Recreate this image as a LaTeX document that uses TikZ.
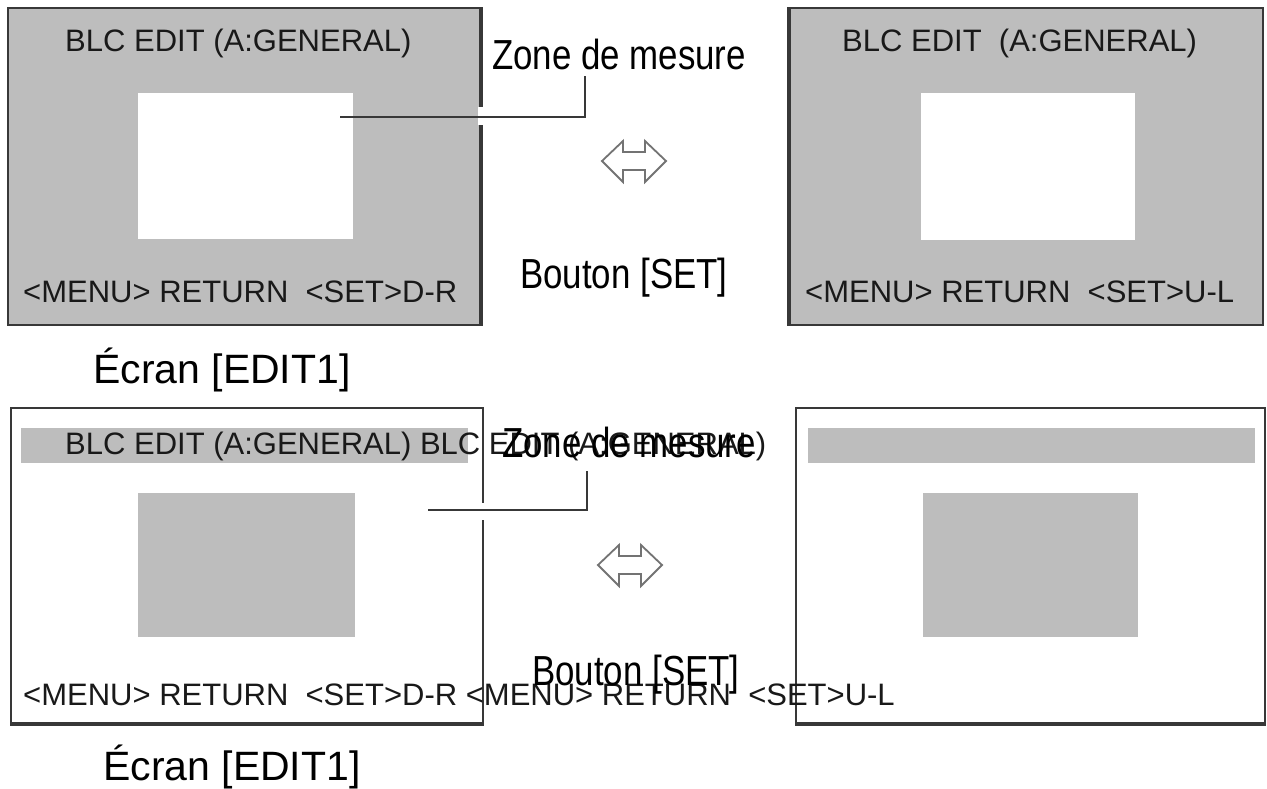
\documentclass[tikz,border=0pt]{standalone}
\usepackage{fontspec}
\usepackage{graphicx}
\setmainfont{Liberation Sans}
\definecolor{scrgray}{HTML}{BDBDBD}
\definecolor{edgecol}{HTML}{383838}
\begin{document}
\begin{tikzpicture}[
	x=1pt, y=-1pt,
	scr/.style = {rectangle, draw=edgecol, line width=1.8pt, inner sep=0},
	win/.style = {rectangle, inner sep=0},
	heavy/.style = {draw=edgecol, line width=3.5pt},
	gap/.style = {draw=white, line width=5pt},
	osd/.style = {inner sep=0, anchor=base west, text=black!90, font=\fontsize{31}{33}\selectfont},
	lbl/.style = {inner sep=0, anchor=base west, font=\fontsize{42}{44}\selectfont},
	scrname/.style = {inner sep=0, anchor=base west, font=\fontsize{41}{43}\selectfont},
	lead/.style = {draw=edgecol, line width=2pt},
	dbl/.pic = {\draw[black!55, line width=1.8pt] (-32,0) -- (-11,-20) -- (-11,-9) -- (11,-9) -- (11,-20) -- (32,0) -- (11,21) -- (11,9) -- (-11,9) -- (-11,21) -- cycle;}
	]
	
	\fill[white] (0,0) rectangle (1267,789);
	\useasboundingbox (0,0) rectangle (1267,789);
	
	%Screens
	\node[scr, fill=scrgray, minimum width=472pt, minimum height=317pt]	(s1)	at	(244, 166.5)	{};
	\node[scr, fill=scrgray, minimum width=473pt, minimum height=317pt]	(s2)	at	(1026.5, 166.5)	{};
	\node[scr, fill=white, minimum width=472pt, minimum height=315pt]	(s3)	at	(247, 565.5)	{};
	\node[scr, fill=white, minimum width=469pt, minimum height=315pt]	(s4)	at	(1030.5, 565.5)	{};
	
	\node[win, fill=white, minimum width=215pt, minimum height=146pt]	(w1)	at	(245.5, 166)	{};
	\node[win, fill=white, minimum width=214pt, minimum height=147pt]	(w2)	at	(1028, 166.5)	{};
	\node[win, fill=scrgray, minimum width=447pt, minimum height=35pt]	(b3)	at	(244.5, 445.5)	{};
	\node[win, fill=scrgray, minimum width=217pt, minimum height=144pt]	(w3)	at	(246.5, 565)	{};
	\node[win, fill=scrgray, minimum width=447pt, minimum height=35pt]	(b4)	at	(1031.5, 445.5)	{};
	\node[win, fill=scrgray, minimum width=215pt, minimum height=144pt]	(w4)	at	(1030.5, 565)	{};
	
	\draw[heavy]	(s1.north east)	--	(s1.south east);
	\draw[heavy]	(s2.north west)	--	(s2.south west);
	\draw[heavy]	(s3.south west)	--	(s3.south east);
	\draw[heavy]	(s4.south west)	--	(s4.south east);
	\draw[gap]	(480, 107)	--	(480, 125);
	\draw[gap]	(483, 503)	--	(483, 520);
	
	%Nodes
	\node[osd]	(t1)	at	(65, 52)	{BLC EDIT (A:GENERAL)};
	\node[osd]	(m1)	at	(23, 302)	{<MENU> RETURN~~<SET>D-R};
	\node[osd]	(t2)	at	(842, 52)	{BLC EDIT~~(A:GENERAL)};
	\node[osd]	(m2)	at	(805, 302)	{<MENU> RETURN~~<SET>U-L};
	\node[lbl]	(zone1)	at	(492, 70)	{\scalebox{0.83}[1]{Zone de mesure}};
	\node[lbl]	(set1)	at	(520, 288)	{\scalebox{0.83}[1]{Bouton [SET]}};
	\node[scrname]	(ecran1)	at	(93, 383)	{Écran [EDIT1]};
	
	\node[osd]	(t3)	at	(65, 454)	{BLC EDIT (A:GENERAL) BLC EDIT (A:GENERAL)};
	\node[osd]	(m3)	at	(23, 705)	{<MENU> RETURN~~<SET>D-R <MENU> RETURN~~<SET>U-L};
	\node[lbl]	(zone2)	at	(502, 457)	{\scalebox{0.83}[1]{Zone de mesure}};
	\node[lbl]	(set2)	at	(532, 685)	{\scalebox{0.83}[1]{Bouton [SET]}};
	\node[scrname]	(ecran2)	at	(103, 780)	{Écran [EDIT1]};
	
	\coordinate	(c1)	at	(340, 117);
	\coordinate	(c2)	at	(428, 510);
	
	\pic	at	(634, 161)	{dbl};
	\pic	at	(630, 565)	{dbl};
	
	%Lines
	\draw[lead]	(c1)	-|	([xshift=-34pt, yshift=-5pt]zone1.south);
	\draw[lead]	(c2)	-|	([xshift=-42pt, yshift=-13pt]zone2.south);
\end{tikzpicture}
\end{document}
